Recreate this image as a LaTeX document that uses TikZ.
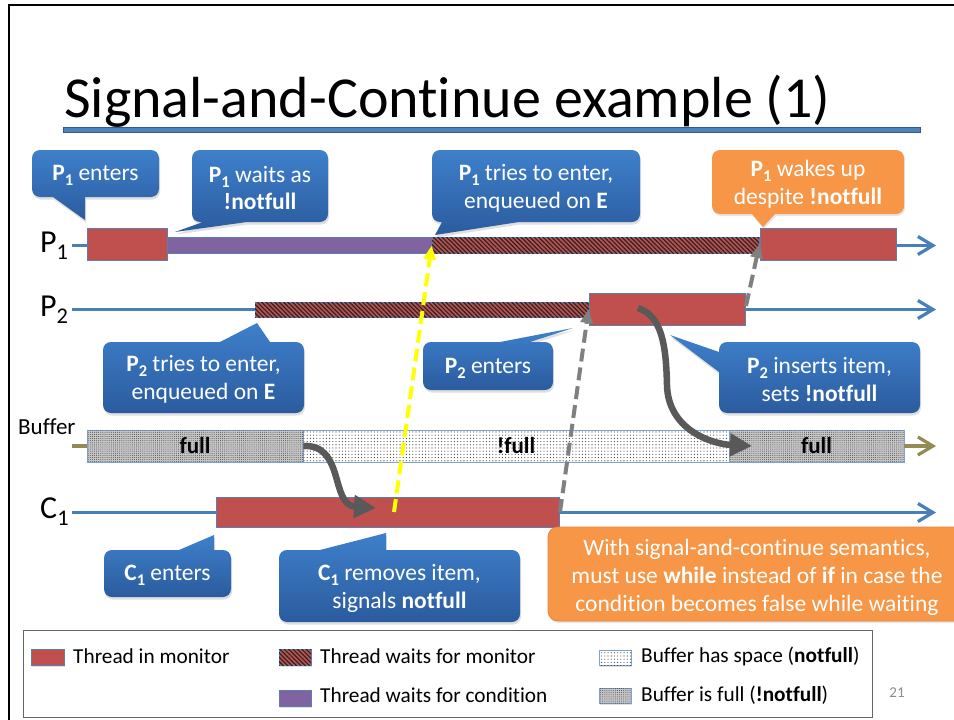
\documentclass[tikz,border=0pt]{standalone}
\usepackage{fontspec}
\setmainfont{Carlito}[Ligatures=NoCommon]
\usetikzlibrary{arrows.meta,patterns.meta,shadows,fit}
\definecolor{lineblue}{HTML}{4A7EBB}
\definecolor{monred}{HTML}{C0504D}
\definecolor{monedge}{HTML}{5B7FB5}
\definecolor{condpurple}{HTML}{8064A2}
\definecolor{cbtop}{HTML}{3E80CB}
\definecolor{cbbot}{HTML}{2B5B9E}
\definecolor{corange}{HTML}{F79646}
\definecolor{corangeedge}{HTML}{E5863C}
\definecolor{olivec}{HTML}{948A54}
\definecolor{cgray}{HTML}{595959}
\definecolor{dgray}{HTML}{808080}
\definecolor{yellowc}{HTML}{FFFF00}
\definecolor{bufedge}{HTML}{7EA3CF}
\definecolor{titleblue}{HTML}{4F81BD}
\newcommand\sbs[1]{\raisebox{-0.22em}{\scalebox{0.7}{#1}}}
\begin{document}
\begin{tikzpicture}[x=1pt,y=-1pt,
  tline/.style={draw=lineblue, line width=3.2pt, -{Straight Barb[length=15pt,width=18pt,line width=3.2pt]}},
  oline/.style={draw=olivec, line width=3.2pt},
  olinearr/.style={draw=olivec, line width=3.2pt, -{Straight Barb[length=15pt,width=18pt,line width=3.2pt]}},
  lbl/.style={font=\fontsize{32}{36}\selectfont, inner sep=0, anchor=base west},
  monbox/.style={fill=monred, draw=monedge, line width=0.8pt, inner sep=0},
  waitmon/.style={fill=monred, draw=monedge, line width=0.6pt, inner sep=0,
     postaction={pattern={Lines[angle=-45,distance=3.1pt,line width=1.2pt]}, pattern color=black!85}},
  waitcond/.style={fill=condpurple, draw=monedge, line width=0.6pt, inner sep=0},
  bufspace/.style={fill=white, draw=bufedge, line width=0.8pt, inner sep=0,
     postaction={pattern={Dots[distance=3.2pt,radius=0.55pt]}, pattern color=black!80}},
  buffull/.style={fill=black!22, draw=bufedge, line width=0.8pt, inner sep=0,
     postaction={pattern={Dots[distance=2.1pt,radius=0.5pt]}, pattern color=black!70}},
  buftext/.style={font=\fontsize{23}{26}\selectfont\bfseries, text=black},
  bluecall/.style={top color=cbtop, bottom color=cbbot, draw=none,
     drop shadow={opacity=0.25, shadow xshift=1pt, shadow yshift=-2.5pt}},
  orangecall/.style={fill=corange, draw=none,
     drop shadow={opacity=0.2, shadow xshift=1pt, shadow yshift=-2pt}},
  ctext/.style={text=white, align=center, font=\fontsize{23.5}{28}\selectfont, inner sep=0, yshift=-2pt},
  yarrow/.style={draw=yellowc, line width=4pt, dash pattern=on 13pt off 6pt, -{Triangle[length=14pt,width=12pt]}},
  garrow/.style={draw=dgray, line width=4pt, dash pattern=on 13pt off 6pt, -{Triangle[length=14pt,width=12pt]}},
  carrow/.style={draw=cgray, line width=6.5pt, -{Triangle[length=22pt,width=22pt]}},
  legtext/.style={font=\fontsize{21.3}{25}\selectfont, anchor=west, inner sep=0},
  swatch/.style={inner sep=0, drop shadow={opacity=0.25, shadow xshift=1pt, shadow yshift=-1.5pt}}
]
\useasboundingbox (0,0) rectangle (954,720);
\fill[white] (0,0) rectangle (954,720);
% slide frame
\draw[black, line width=2pt] (9,722) -- (9,5) -- (956,5);

% title
\node[anchor=base west, font=\fontsize{58}{70}\selectfont, inner sep=0] (title) at (64,117) {Signal-and-Continue example (1)};
\draw[fill=titleblue, draw=titleblue!70!black, line width=0.8pt] (63,127.5) rectangle (920,132);

% ---- timelines ----
\node[lbl] (p1lbl) at (40,252) {P\sbs{1}};
\node[lbl] (p2lbl) at (40,316) {P\sbs{2}};
\node[lbl] (c1lbl) at (40,518) {C\sbs{1}};
\node[font=\fontsize{23}{26}\selectfont, inner sep=0, anchor=base west] (buflbl) at (18,434) {Buffer};

\coordinate (p1s) at (72,245.5); \coordinate (p1e) at (936,245.5);
\coordinate (p2s) at (72,309.5); \coordinate (p2e) at (936,309.5);
\coordinate (c1s) at (72,512.5); \coordinate (c1e) at (936,512.5);
\coordinate (bs) at (72,446); \coordinate (be) at (936,446);

\draw[tline] (p1s) -- (p1e);
\draw[tline] (p2s) -- (p2e);
\draw[tline] (c1s) -- (c1e);

% P1 bars
\node[monbox, fit={(87,228) (167,260)}] (p1a) {};
\node[waitcond, fit={(167,237.5) (432,253.5)}] (p1w) {};
\node[waitmon, fit={(432,237.5) (759,253.5)}] (p1h) {};
\node[monbox, fit={(760,228) (896,260)}] (p1b) {};
% P2 bars
\node[waitmon, fit={(255,302) (589,317)}] (p2h) {};
\node[monbox, fit={(589,293) (745,325)}] (p2a) {};
% C1 bar
\node[monbox, fit={(216,497) (559,527)}] (c1a) {};
% buffer
\node[buffull, fit={(87,430) (303,462)}] (buf1) {};
\node[bufspace, fit={(303,430) (729,462)}] (buf2) {};
\node[buffull, fit={(729,430) (904,462)}] (buf3) {};
\draw[oline] (bs) -- (buf1.west);
\draw[olinearr] (buf3.east) -- (be);
\node[buftext] (buf1t) at (buf1.center) {full};
\node[buftext] (buf2t) at (buf2.center) {!full};
\node[buftext] (buf3t) at (buf3.center) {full};

% ---- callouts ----
\path[bluecall] [rounded corners=8pt] (32,150) rectangle (159,197) [sharp corners] (53,197) -- (85,220) -- (85,197) -- cycle;
\node[ctext] (cp1enter) at (95.5,173.5) {\textbf{P\sbs{1}} enters};

\path[bluecall] [rounded corners=8pt] (192,150) rectangle (328,222) [sharp corners] (203,222) -- (175,232) -- (247,222) -- cycle;
\node[ctext] (cp1wait) at (260,186) {\textbf{P\sbs{1}} waits as\\\textbf{!notfull}};

\path[bluecall] [rounded corners=8pt] (432,150) rectangle (640,222) [sharp corners] (442,222) -- (435,235) -- (519,222) -- cycle;
\node[ctext] (cp1try) at (536,186) {\textbf{P\sbs{1}} tries to enter,\\enqueued on \textbf{E}};

\path[orangecall] [rounded corners=8pt] (712,150) rectangle (904,214) [sharp corners] (752,214) -- (763,227) -- (775,214) -- cycle;
\node[ctext] (cp1wake) at (808,182) {\textbf{P\sbs{1}} wakes up\\despite \textbf{!notfull}};

\path[bluecall] [rounded corners=8pt] (103,342) rectangle (304,413) [sharp corners] (220,342) -- (257,323) -- (270,342) -- cycle;
\node[ctext] (cp2try) at (203.5,377.5) {\textbf{P\sbs{2}} tries to enter,\\enqueued on \textbf{E}};

\path[bluecall] [rounded corners=8pt] (423,342) rectangle (553,390) [sharp corners] (500,342) -- (573,328) -- (530,342) -- cycle;
\node[ctext] (cp2enter) at (488,366) {\textbf{P\sbs{2}} enters};

\path[bluecall] [rounded corners=8pt] (719,342) rectangle (920,413) [sharp corners] (719,352) -- (670,335) -- (719,372) -- cycle;
\node[ctext] (cp2ins) at (819.5,377.5) {\textbf{P\sbs{2}} inserts item,\\sets \textbf{!notfull}};

\path[bluecall] [rounded corners=8pt] (104,550) rectangle (231,597) [sharp corners] (179,550) -- (214,535) -- (214,550) -- cycle;
\node[ctext] (cc1enter) at (167.5,573.5) {\textbf{C\sbs{1}} enters};

\path[bluecall] [rounded corners=8pt] (279,550) rectangle (520,622) [sharp corners] (320,550) -- (386,533) -- (386,550) -- cycle;
\node[ctext] (cc1rem) at (399.5,586) {\textbf{C\sbs{1}} removes item,\\signals \textbf{notfull}};

\path[orangecall, draw=corangeedge, line width=0.8pt] [rounded corners=10pt] (548,527) rectangle (966,621);
\node[ctext] (cnote) at (757,575) {With signal-and-continue semantics,\\must use \textbf{while} instead of \textbf{if} in case the\\condition becomes false while waiting};

% ---- arrows ----
\coordinate (ys) at (394,512);
\draw[yarrow] (ys) -- (p1h.west);
\coordinate (g1s) at (560,512);
\draw[garrow] (g1s) -- (p2a.west);
\coordinate (g2s) at (746,306);
\draw[garrow] (g2s) -- (p1b.west);

\coordinate (cv1e) at (376,508);
\draw[carrow] (buf1.east) .. controls (345,444) and (330,505) .. (cv1e);
\coordinate (cv2s) at (638,308);
\coordinate (cv2m) at (667,385);
\coordinate (cv2e) at (752,446);
\draw[carrow] (cv2s) .. controls (662,316) and (666,345) .. (cv2m) .. controls (668,430) and (712,444) .. (cv2e);

% ---- legend ----
\node[draw=dgray!80!black, line width=1pt, fit={(23,630) (872,717)}, inner sep=0] (legend) {};
\node[swatch, monbox, fit={(31,649) (64,665)}] (sw1) {};
\node[legtext] (lt1) at (73,656) {Thread in monitor};
\node[swatch, waitmon, fit={(279,649) (311,665)}] (sw2) {};
\node[legtext] (lt2) at (320,656) {Thread waits for monitor};
\node[swatch, waitcond, fit={(279,690) (311,706)}] (sw3) {};
\node[legtext] (lt3) at (320,695) {Thread waits for condition};
\node[swatch, bufspace, fit={(599,650) (631,665)}] (sw4) {};
\node[legtext] (lt4) at (641,656) {Buffer has space (\textbf{notfull})};
\node[swatch, buffull, fit={(599,688) (631,703)}] (sw5) {};
\node[legtext] (lt5) at (641,695) {Buffer is full (\textbf{!notfull})};
\node[text=black!45, font=\fontsize{15}{18}\selectfont, inner sep=0] (pg) at (897,693) {21};
\end{tikzpicture}
\end{document}
